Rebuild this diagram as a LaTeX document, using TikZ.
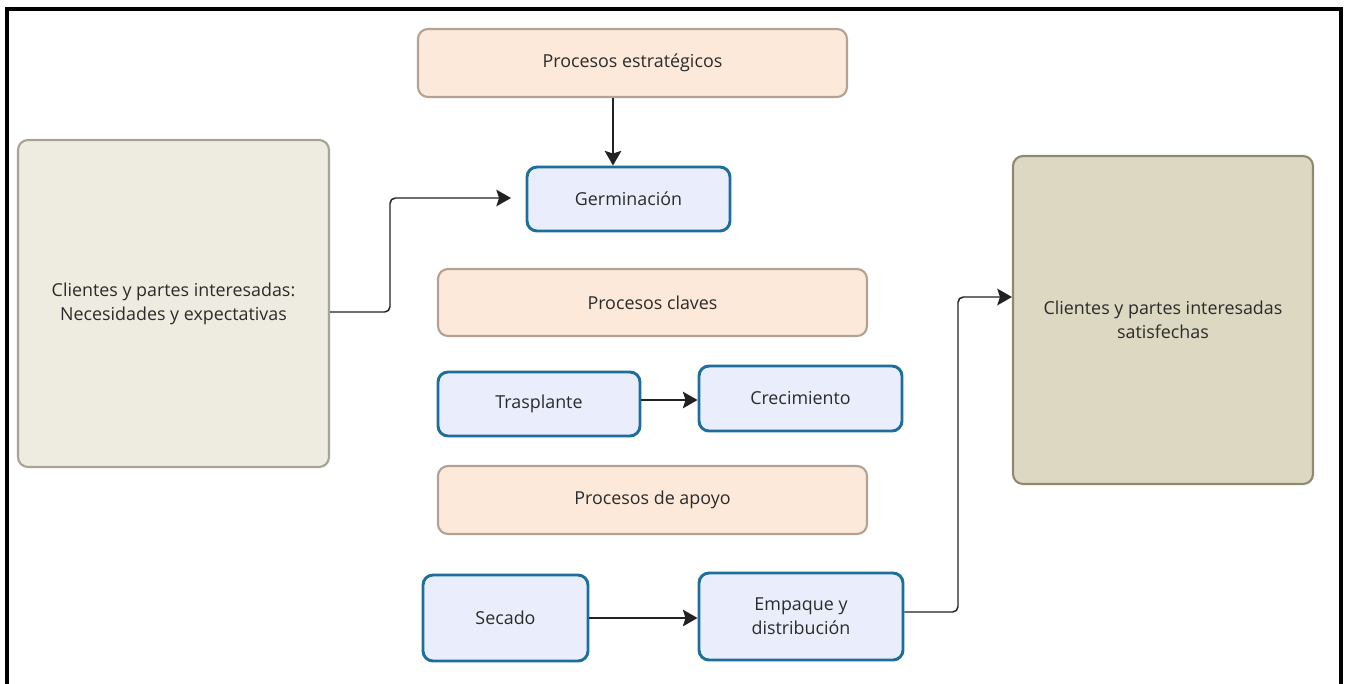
\documentclass[tikz,border=0pt]{standalone}
\usepackage{fontspec}
\setmainfont{Open Sans}
\usetikzlibrary{arrows.meta}
\definecolor{peachfill}{HTML}{FDE9D9}
\definecolor{peachdraw}{HTML}{B3A294}
\definecolor{bluefill}{HTML}{EAEEFC}
\definecolor{bluedraw}{HTML}{1D6E9B}
\definecolor{leftfill}{HTML}{EEEBE0}
\definecolor{leftdraw}{HTML}{A7A395}
\definecolor{rightfill}{HTML}{DDD8C2}
\definecolor{rightdraw}{HTML}{8E8A72}
\definecolor{txt}{HTML}{2B2B2B}
\definecolor{conn}{HTML}{222222}
\begin{document}
\begin{tikzpicture}[x=0.75pt,y=-0.75pt,
  base/.style={rounded corners=7.5pt,align=center,font=\fontsize{13.4pt}{18pt}\selectfont,text=txt,inner sep=0pt},
  peach/.style={base,fill=peachfill,draw=peachdraw,line width=1.6pt},
  blue/.style={base,fill=bluefill,draw=bluedraw,line width=2.2pt},
  leftbox/.style={base,fill=leftfill,draw=leftdraw,line width=1.6pt},
  rightbox/.style={base,fill=rightfill,draw=rightdraw,line width=1.6pt},
  arr/.style={draw=conn,line width=1.1pt,-{Stealth[length=11pt,width=12.5pt,inset=2pt]},rounded corners=4pt}]
\useasboundingbox (0,0) rectangle (1346,683);
\begin{scope}
\clip (0,0) rectangle (1346,683);
\draw[line width=2.3pt,black] (7,700) -- (7,9) -- (1341,9) -- (1341,700);
\end{scope}
% nodes
\node[peach,minimum width=429*0.75pt,minimum height=68*0.75pt] (estrat) at (632.5,63) {Procesos estratégicos};
\node[blue,minimum width=203*0.75pt,minimum height=64*0.75pt] (germ) at (628.5,199) {Germinación};
\node[leftbox,minimum width=311*0.75pt,minimum height=327*0.75pt] (left) at (173.5,303.5) {Clientes y partes interesadas:\\ Necesidades y expectativas};
\node[peach,minimum width=429*0.75pt,minimum height=67*0.75pt] (claves) at (652.5,302.5) {Procesos claves};
\node[blue,minimum width=202*0.75pt,minimum height=64*0.75pt] (tras) at (539,404) {Trasplante};
\node[blue,minimum width=203*0.75pt,minimum height=65*0.75pt] (crec) at (800.5,398.5) {Crecimiento};
\node[peach,minimum width=429*0.75pt,minimum height=68*0.75pt] (apoyo) at (652.5,500) {Procesos de apoyo};
\node[blue,minimum width=165*0.75pt,minimum height=86*0.75pt] (sec) at (505.5,618) {Secado};
\node[blue,minimum width=204*0.75pt,minimum height=87*0.75pt] (emp) at (801,616.5) {Empaque y\\distribución};
\node[rightbox,minimum width=300*0.75pt,minimum height=328*0.75pt] (right) at (1163,320) {Clientes y partes interesadas\\satisfechas};
% connectors
\coordinate (gin) at (511,198);
\draw[arr] (estrat.south -| 613,0) -- (germ.north -| 613,0);
\draw[arr] (left.east |- 0,312) -- (390,312) -- (390,198) -- (gin);
\draw[arr] (tras.east |- 0,400) -- (crec.west |- 0,400);
\draw[arr] (sec.east |- 0,618) -- (emp.west |- 0,618);
\draw[arr] (emp.east |- 0,612) -- (958,612) -- (958,297) -- (right.west |- 0,297);
\end{tikzpicture}
\end{document}
